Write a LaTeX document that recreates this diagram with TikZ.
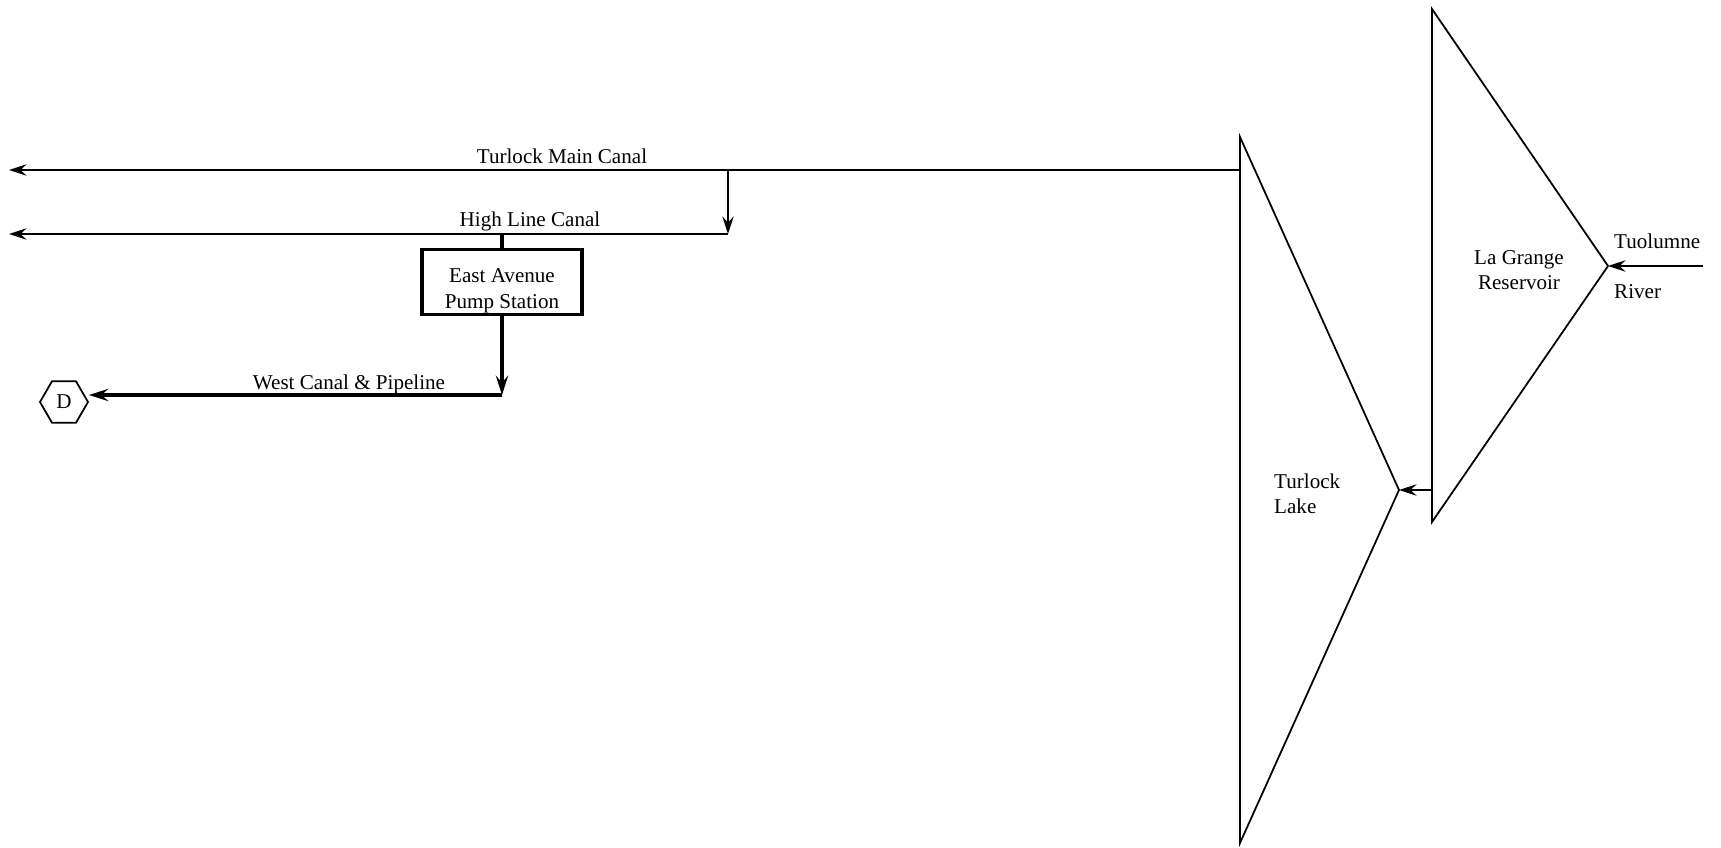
\documentclass[tikz,border=0pt]{standalone}
\usepackage{fontspec}
\setmainfont{Liberation Serif}
\usepackage{tikz}
\usetikzlibrary{arrows.meta,calc,positioning,shapes.geometric}
\tikzset{
  flow/.style={line width=0.9pt,-{Stealth[length=10pt,width=6.5pt,inset=3.5pt]}},
  bigflow/.style={line width=1.8pt,-{Stealth[length=11pt,width=7pt,inset=4pt]}},
  res/.style={line width=1pt,line join=miter},
  pump/.style={draw,line width=2pt,minimum width=3.2cm,minimum height=1.3cm,align=center,inner sep=0pt},
  dem/.style={draw,line width=1pt,regular polygon,regular polygon sides=6,minimum size=0.96cm,inner sep=0pt}
}

\begin{document}
\begin{tikzpicture}[x=0.02cm,y=-0.02cm,font=\fontsize{12}{14.5}\selectfont]
\useasboundingbox (0,0) rectangle (1721,848);
% reservoirs
\coordinate (TLtop) at (1240,137);
\coordinate (TLbot) at (1240,843);
\coordinate (TLtip) at (1399,490);
\draw[res] (TLtop) -- (TLtip) -- (TLbot) -- cycle;
\node[anchor=west,align=left] (TLlab) at (1268,494) {Turlock\\Lake};
\coordinate (LGtop) at (1432,9);
\coordinate (LGbot) at (1432,522);
\coordinate (LGtip) at (1608,266);
\draw[res] (LGtop) -- (LGtip) -- (LGbot) -- cycle;
\node[align=center] (LGlab) at (1519,270) {La Grange\\Reservoir};
\coordinate (LGout) at (1432,490);
\draw[flow] (LGout) -- (TLtip);
% river inflow
\coordinate (river) at (1703,266);
\draw[flow] (river) -- (LGtip);
\node[anchor=west] (Rtop) at (1608,241) {Tuolumne};
\node[anchor=west] (Rbot) at (1608,292) {River};
% canals
\coordinate (TMstart) at (1240,170);
\coordinate (TMend) at (9,170);
\coordinate (split) at (728,170);
\draw[flow] (TMstart) -- (TMend);
\node[above] at (562,170) {Turlock Main Canal};
\coordinate (HLstart) at (728,234);
\coordinate (HLend) at (9,234);
\draw[flow] (split) -- (HLstart);
\draw[flow] (HLstart) -- (HLend);
\node[above,yshift=-2pt] at (530,234) {High Line Canal};
% pump station
\node[pump] (pump) at (502,282) {\rule{0pt}{18pt}East Avenue\\Pump Station};
\draw[line width=1.8pt] (pump.north) -- (pump.north |- HLstart);
\coordinate (WCcorner) at (pump.south |- 0,395);
\node[dem] (D) at (64,402) {D};
\draw[bigflow] (pump.south) -- (WCcorner);
\draw[bigflow] (WCcorner) -- (WCcorner -| D.east);
\node[above,yshift=-3pt] at (349,395) {West Canal \& Pipeline};
\end{tikzpicture}
\end{document}
